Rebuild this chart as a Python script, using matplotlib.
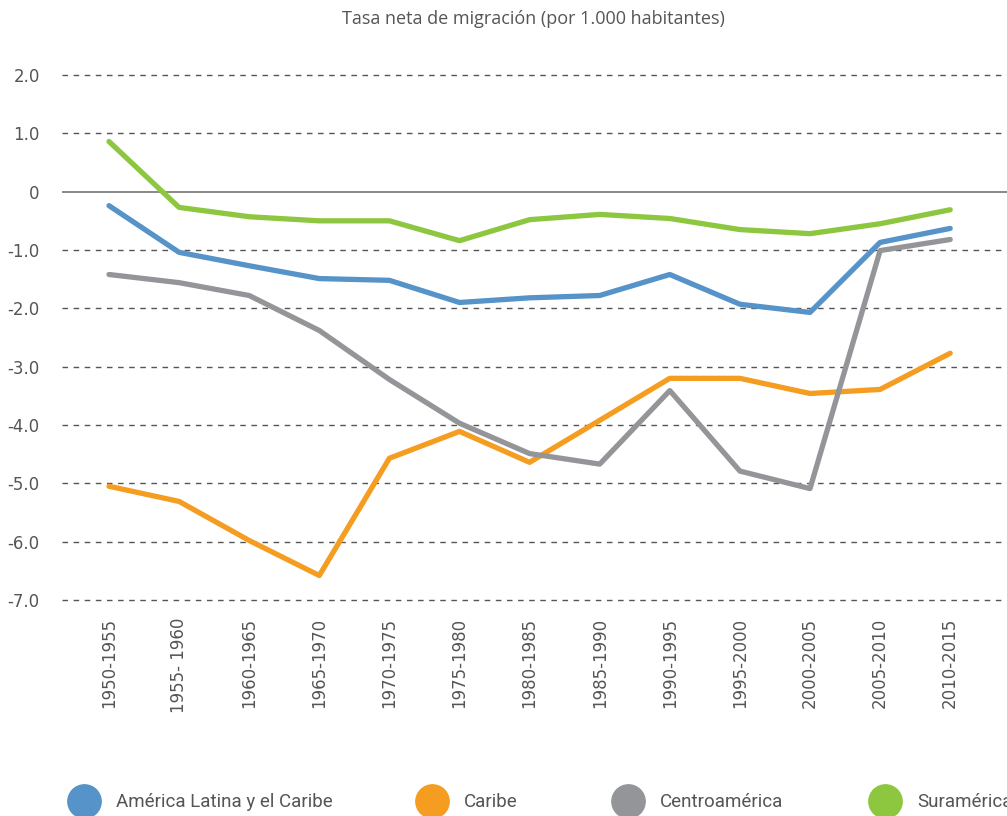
import matplotlib.pyplot as plt
from matplotlib.lines import Line2D

periodos = ["1950-1955", "1955- 1960", "1960-1965", "1965-1970", "1970-1975",
            "1975-1980", "1980-1985", "1985-1990", "1990-1995", "1995-2000",
            "2000-2005", "2005-2010", "2010-2015"]

america_latina = [-0.24, -1.04, -1.27, -1.49, -1.52, -1.90, -1.82, -1.78, -1.42, -1.93, -2.07, -0.87, -0.63]
caribe = [-5.05, -5.31, -5.98, -6.58, -4.57, -4.11, -4.64, -3.92, -3.20, -3.20, -3.46, -3.39, -2.77]
centroamerica = [-1.42, -1.56, -1.78, -2.38, -3.22, -3.97, -4.49, -4.67, -3.41, -4.79, -5.09, -1.01, -0.82]
suramerica = [0.86, -0.27, -0.43, -0.50, -0.50, -0.84, -0.48, -0.39, -0.46, -0.65, -0.72, -0.55, -0.31]

y_ticks = [2, 1, 0, -1, -2, -3, -4, -5, -6, -7]
y_labels = ["2.0", "1.0", "0", "-1.0", "-2.0", "-3.0", "-4.0", "-5.0", "-6.0", "-7.0"]

series = [
    ("América Latina y el Caribe", america_latina, "#5593c8"),
    ("Caribe", caribe, "#f59d20"),
    ("Centroamérica", centroamerica, "#939598"),
    ("Suramérica", suramerica, "#8dc63f"),
]

txt = "#555555"
fig = plt.figure(figsize=(10.07, 8.16), dpi=100)
ax = fig.add_axes([0.0616, 0.2647, 0.9384, 0.6434])

x = list(range(len(periodos)))
for y in y_ticks:
    if y == 0:
        ax.axhline(0, color="#7f7f7f", lw=1.3, zorder=1)
    else:
        ax.axhline(y, color="#555555", lw=1.0, ls=(0, (4, 4)), zorder=1, clip_on=False)

for name, vals, col in series:
    ax.plot(x, vals, color=col, lw=3.8, solid_capstyle="round", solid_joinstyle="round", zorder=3)

ax.set_xlim(-0.67, 12.81)
ax.set_ylim(-7, 2)
ax.set_yticks(y_ticks)
ax.set_yticklabels(y_labels)
ax.set_xticks(x)
ax.set_xticklabels(periodos, rotation=90)
ax.tick_params(axis="both", length=0, labelsize=12, colors=txt)
ax.tick_params(axis="y", pad=16)
ax.tick_params(axis="x", pad=13)
for s in ax.spines.values():
    s.set_visible(False)

fig.text(0.53, 0.977, "Tasa neta de migración (por 1.000 habitantes)", ha="center", va="center",
         fontsize=13, color=txt, family="Open Sans")

# legend: one entry per item so the markers sit where they do in the original
leg_x = [0.072, 0.418, 0.612, 0.868]
for (name, _, col), lx in zip(series, leg_x):
    h = Line2D([], [], ls="none", marker="o", markersize=24, color=col)
    leg = fig.legend([h], [name], loc="center left", bbox_to_anchor=(lx, 0.017), frameon=False,
                     prop={"family": "Roboto", "size": 13.5}, labelcolor=txt,
                     handletextpad=1.1, handlelength=1.2, borderaxespad=0, borderpad=0)

fig.savefig("out.png", dpi=100)
